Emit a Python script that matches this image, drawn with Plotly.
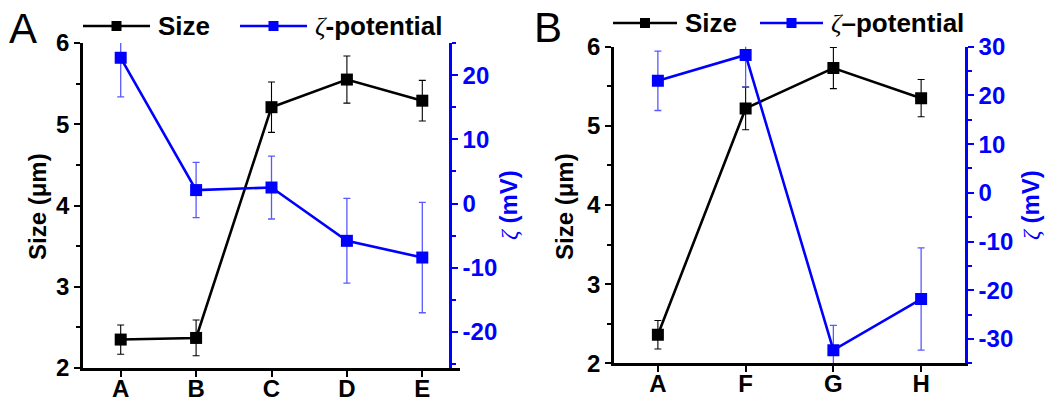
import plotly.graph_objects as go

W, H = 1055, 404

# ---------------- data ----------------
cats_a = ["A", "B", "C", "D", "E"]
size_a = [2.35, 2.37, 5.21, 5.55, 5.29]
size_a_err = [0.18, 0.22, 0.31, 0.29, 0.25]
zeta_a = [22.7, 2.1, 2.5, -5.8, -8.4]
zeta_a_err = [6.1, 4.3, 4.9, 6.6, 8.6]

cats_b = ["A", "F", "G", "H"]
size_b = [2.36, 5.22, 5.73, 5.35]
size_b_err = [0.18, 0.27, 0.26, 0.235]
zeta_b = [23.0, 28.3, -32.3, -21.8]
zeta_b_err = [6.1, 6.6, 5.1, 10.5]

size_ticks = [2, 3, 4, 5, 6]
zeta_a_ticks = [-20, -10, 0, 10, 20]
zeta_b_ticks = [-30, -20, -10, 0, 10, 20, 30]

BLUE = "#0000ff"
ERRBLUE = "rgba(60,60,255,0.85)"
FONT = "Liberation Sans"
ZETA = "<span style='font-family:Liberation Serif;font-weight:normal'><i>ζ</i></span>"


def px(x):
    return x / W


def py(y):
    return 1 - y / H


def bold(vals):
    return ["<b>%s</b>" % v for v in vals]


# panel geometry (pixels)
A_left, A_right, A_top, A_bot, A_raxis = 83, 460, 43, 368, 450
B_left, B_right, B_top, B_bot = 614, 965, 46.7, 363.3

fig = go.Figure()

line_w = 2.6
msize = 12

fig.add_trace(go.Scatter(
    x=cats_a, y=size_a, xaxis="x", yaxis="y", mode="lines+markers",
    line=dict(color="black", width=line_w),
    marker=dict(symbol="square", size=msize, color="black"),
    error_y=dict(type="data", array=size_a_err, color="black", thickness=1.1, width=3.5),
    name="Size", showlegend=False))
fig.add_trace(go.Scatter(
    x=cats_a, y=zeta_a, xaxis="x", yaxis="y2", mode="lines+markers",
    line=dict(color=BLUE, width=line_w),
    marker=dict(symbol="square", size=msize, color=BLUE),
    error_y=dict(type="data", array=zeta_a_err, color=ERRBLUE, thickness=1.3, width=3.5),
    name="ζ-potential", showlegend=False))
fig.add_trace(go.Scatter(
    x=cats_b, y=size_b, xaxis="x2", yaxis="y3", mode="lines+markers",
    line=dict(color="black", width=line_w),
    marker=dict(symbol="square", size=msize, color="black"),
    error_y=dict(type="data", array=size_b_err, color="black", thickness=1.1, width=3.5),
    name="Size", showlegend=False))
fig.add_trace(go.Scatter(
    x=cats_b, y=zeta_b, xaxis="x2", yaxis="y4", mode="lines+markers",
    line=dict(color=BLUE, width=line_w),
    marker=dict(symbol="square", size=msize, color=BLUE),
    error_y=dict(type="data", array=zeta_b_err, color=ERRBLUE, thickness=1.3, width=3.5),
    name="ζ–potential", showlegend=False))

tickfont = dict(family=FONT, size=24, color="black")
tickfont_b = dict(family=FONT, size=24, color=BLUE)

common_x = dict(showline=True, linecolor="black", linewidth=2.6, ticks="outside",
                ticklen=6, tickwidth=2, tickcolor="black", tickfont=tickfont,
                ticklabelstandoff=-9,
                showgrid=False, zeroline=False, fixedrange=True, automargin=False)
top_x = dict(showticklabels=False, showline=True, linecolor="black", linewidth=2.6,
             ticks="inside", ticklen=7, tickwidth=2, tickcolor="black", showgrid=False,
             zeroline=False, automargin=False, side="top", type="linear")
left_y = dict(range=[2, 6], tickvals=size_ticks, ticktext=bold(size_ticks), showline=True,
              linecolor="black", linewidth=2.6, ticks="outside", ticklen=6, tickwidth=2,
              tickcolor="black",
              minor=dict(dtick=0.5, ticks="outside", ticklen=4, tickwidth=2, tickcolor="black"),
              tickfont=tickfont, showgrid=False, zeroline=False, automargin=False)
right_y = dict(side="right", showline=True, linecolor=BLUE, linewidth=2.6, ticks="outside",
               ticklen=6, tickwidth=2, tickcolor=BLUE,
               minor=dict(dtick=5, ticks="outside", ticklen=4, tickwidth=2, tickcolor=BLUE),
               tickfont=tickfont_b, showgrid=False, zeroline=False, automargin=False)

fig.update_layout(
    width=W, height=H, margin=dict(l=0, r=0, t=0, b=0),
    plot_bgcolor="white", paper_bgcolor="white", showlegend=False,
    xaxis=dict(domain=[px(A_left), px(A_right)], anchor="y", type="category",
               categoryorder="array", categoryarray=cats_a, range=[-0.5, len(cats_a) - 0.5],
               tickvals=cats_a, ticktext=bold(cats_a), **common_x),
    xaxis3=dict(domain=[px(A_left), px(A_right)], anchor="y", overlaying="x",
                range=[-0.5, len(cats_a) - 0.5], tickvals=list(range(len(cats_a))), **top_x),
    yaxis=dict(domain=[py(A_bot), py(A_top)], anchor="x", **left_y),
    yaxis2=dict(overlaying="y", anchor="free", position=px(A_raxis), range=[-25.6, 25],
                tickvals=zeta_a_ticks, ticktext=bold(zeta_a_ticks), **right_y),
    xaxis2=dict(domain=[px(B_left), px(B_right)], anchor="y3", type="category",
                categoryorder="array", categoryarray=cats_b, range=[-0.5, len(cats_b) - 0.5],
                tickvals=cats_b, ticktext=bold(cats_b), **common_x),
    xaxis4=dict(domain=[px(B_left), px(B_right)], anchor="y3", overlaying="x2",
                range=[-0.5, len(cats_b) - 0.5], tickvals=list(range(len(cats_b))), **top_x),
    yaxis3=dict(domain=[py(B_bot), py(B_top)], anchor="x2", **left_y),
    yaxis4=dict(overlaying="y3", anchor="x2", range=[-35, 30],
                tickvals=zeta_b_ticks, ticktext=bold(zeta_b_ticks), **right_y),
)

ann_font = dict(family=FONT, size=24, color="black")
ann_font_b = dict(family=FONT, size=24, color=BLUE)
leg_font = dict(family=FONT, size=26, color="black")
annotations = [
    dict(text="A", x=px(23), y=py(28), font=dict(family=FONT, size=42, color="black")),
    dict(text="B", x=px(548), y=py(27), font=dict(family=FONT, size=42, color="black")),
    dict(text="<b>Size (μm)</b>", x=px(37), y=py(207), textangle=-90, font=ann_font),
    dict(text="<b>" + ZETA + " (mV)</b>", x=px(508), y=py(205), textangle=-90, font=ann_font_b),
    dict(text="<b>Size (μm)</b>", x=px(564), y=py(207), textangle=-90, font=ann_font),
    dict(text="<b>" + ZETA + " (mV)</b>", x=px(1030), y=py(205), textangle=-90, font=ann_font_b),
]
for a in annotations:
    a.update(xanchor="center")

# hand-made legends (key line + square marker + label), one per panel
shapes = []
legend_items = [
    # (x_start, x_end, y, colour, label)
    (83, 150, 26, "black", "<b>Size</b>"),
    (240, 307, 26, BLUE, "<b>" + ZETA + "-potential</b>"),
    (613, 677, 23, "black", "<b>Size</b>"),
    (760, 823, 23, BLUE, "<b>" + ZETA + "–potential</b>"),
]
for x0, x1, yy, col, label in legend_items:
    shapes.append(dict(type="line", xref="paper", yref="paper", x0=px(x0), x1=px(x1),
                       y0=py(yy), y1=py(yy), line=dict(color=col, width=2.6)))
    xc = (x0 + x1) / 2
    shapes.append(dict(type="rect", xref="paper", yref="paper", x0=px(xc - 5), x1=px(xc + 5),
                       y0=py(yy + 5), y1=py(yy - 5), fillcolor=col, line=dict(width=0)))
    annotations.append(dict(text=label, x=px(x1 + 6), y=py(yy), xanchor="left", font=leg_font))

for a in annotations:
    a.update(xref="paper", yref="paper", showarrow=False, yanchor="middle")
fig.update_layout(annotations=annotations, shapes=shapes)

fig.write_html("out.html")
